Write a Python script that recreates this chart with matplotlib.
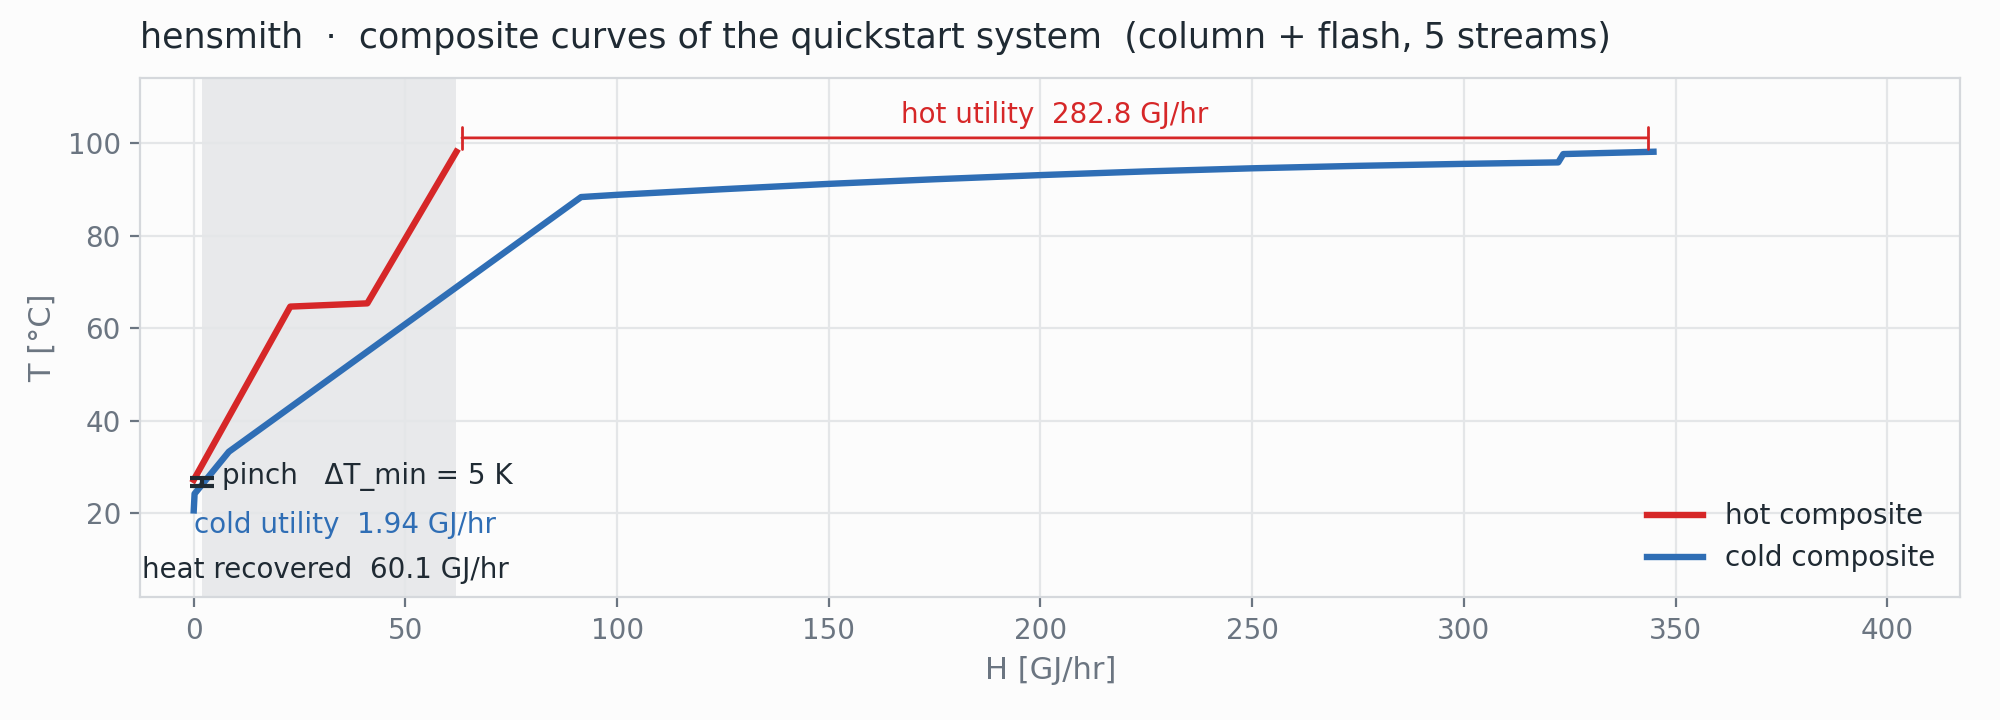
import matplotlib
matplotlib.use("Agg")
import matplotlib.pyplot as plt

# composite curves (H in GJ/hr, T in degC)
hot_H = [0.0, 22.8, 41.0, 62.04]
hot_T = [27.2, 64.7, 65.4, 98.2]

cold_H = [0.0, 0.2, 8.3, 91.5, 100, 125, 150, 175, 200, 225, 250, 275, 300, 322.3, 323.5, 344.8]
cold_T = [20.6, 24.2, 33.3, 88.4, 88.88, 90.1, 91.25, 92.25, 93.15, 93.95, 94.62, 95.15, 95.58, 95.9, 97.7, 98.2]

q_cold = 1.94
q_recovered = 60.1
q_hot = 282.8
dT_min = 5

pinch_H = 1.94
pinch_T_lo = 25.8
pinch_T_hi = 27.7

hot_color = "#d62728"
cold_color = "#2f6eb5"
text_dark = "#1f2a33"
text_grey = "#6b7581"
bg = "#fcfcfc"

plt.rcParams['font.family'] = ['DejaVu Sans']

fig = plt.figure(figsize=(10, 3.6), dpi=200, facecolor=bg)
ax = fig.add_axes([0.0702, 0.1704, 0.9098, 0.7209])
ax.set_facecolor(bg)

# heat recovery region
ax.axvspan(q_cold, q_cold + q_recovered, color="#e8e9eb", zorder=0, lw=0)

ax.plot(hot_H, hot_T, color=hot_color, lw=2.3, label="hot composite", zorder=3)
ax.plot(cold_H, cold_T, color=cold_color, lw=2.3, label="cold composite", zorder=3)

# hot utility bracket
x0 = hot_H[-1]
x1 = hot_H[-1] + q_hot
ax.annotate("", xy=(x1, 101.2), xytext=(x0, 101.2),
            arrowprops=dict(arrowstyle="|-|,widthA=0.45,widthB=0.45", color=hot_color,
                            lw=1.0, mutation_scale=9))
ax.text((x0 + x1) / 2, 104.5, f"hot utility  {q_hot:.1f} GJ/hr", color=hot_color,
        fontsize=10, ha="center", va="baseline")

# pinch marker
ax.errorbar([pinch_H], [(pinch_T_lo + pinch_T_hi) / 2], yerr=[(pinch_T_hi - pinch_T_lo) / 2],
            color="#1f2a33", lw=1.5, capsize=4.2, capthick=1.5, zorder=4)
ax.text(pinch_H + 4.8, 27.9, f"pinch   ΔT_min = {dT_min} K", color=text_dark,
        fontsize=10, ha="left", va="center")
ax.text(0.0, 17.5, f"cold utility  {q_cold:.2f} GJ/hr", color=cold_color,
        fontsize=10, ha="left", va="center")
ax.text(-12.2, 7.7, f"heat recovered  {q_recovered:.1f} GJ/hr", color=text_dark,
        fontsize=10, ha="left", va="center")

ax.set_xlim(-12.6, 417.2)
ax.set_ylim(1.8, 114.1)
ax.set_xticks(range(0, 401, 50))
ax.set_yticks(range(20, 101, 20))

ax.set_xlabel("H [GJ/hr]", fontsize=11, color=text_grey)
ax.set_ylabel("T [°C]", fontsize=11, color=text_grey)
ax.set_title("hensmith  ·  composite curves of the quickstart system  (column + flash, 5 streams)",
             loc="left", fontsize=12.55, color=text_dark, pad=11)

ax.grid(True, color="#e4e6e8", lw=0.8, zorder=1)
ax.set_axisbelow(True)
ax.tick_params(colors=text_grey, labelsize=10, length=3.5, width=0.8)
for s in ax.spines.values():
    s.set_color("#d5d8dc")
    s.set_linewidth(0.8)

ax.legend(loc="lower right", frameon=False, fontsize=10, labelcolor=text_dark)

fig.savefig("out.png", dpi=200, facecolor=bg)
